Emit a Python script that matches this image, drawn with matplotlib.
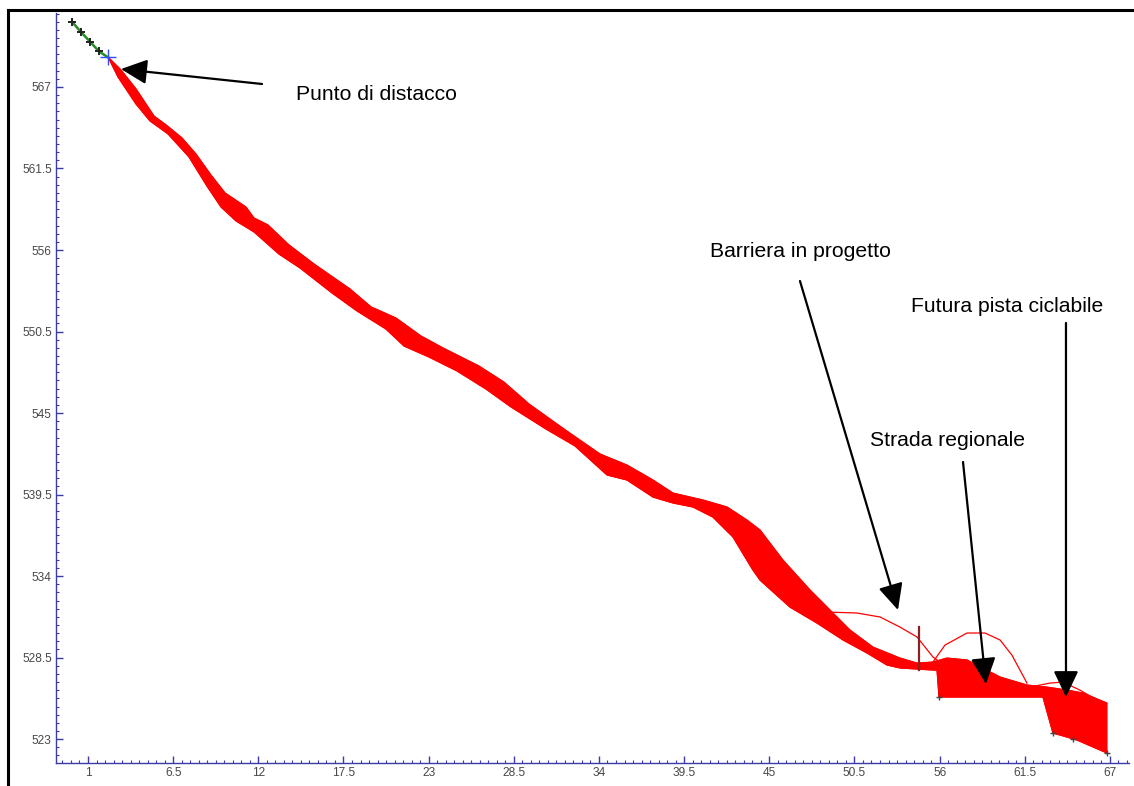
import matplotlib
matplotlib.use("Agg")
import matplotlib.pyplot as plt
from matplotlib.ticker import FixedLocator, AutoMinorLocator
from matplotlib.lines import Line2D

plt.rcParams['font.family'] = ['Liberation Sans', 'DejaVu Sans']

# ---------------- data ----------------
x_ticks = [1, 6.5, 12, 17.5, 23, 28.5, 34, 39.5, 45, 50.5, 56, 61.5, 67]
x_tick_labels = ["1", "6.5", "12", "17.5", "23", "28.5", "34", "39.5", "45", "50.5", "56", "61.5", "67"]
y_ticks = [523, 528.5, 534, 539.5, 545, 550.5, 556, 561.5, 567]
y_tick_labels = ["523", "528.5", "534", "539.5", "545", "550.5", "556", "561.5", "567"]

# initial (green) path of the block before detachment
start_x = [-0.03, 0.55, 1.13, 1.71, 2.29]
start_y = [571.4, 570.7, 570.06, 569.4, 569.0]

# upper envelope of the bundle of trajectories
upper_x = [2.29, 3.13, 4.10, 5.26, 6.04, 7.07, 7.97, 8.94, 9.85, 11.20, 11.72, 12.62,
           13.98, 15.59, 17.92, 19.28, 20.89, 22.50, 23.93, 26.25, 27.86, 29.48, 31.74,
           34.06, 35.81, 37.49, 38.78, 40.72, 42.27, 43.56, 44.40, 45.88, 47.63, 49.11,
           50.21, 51.69, 53.44, 54.54, 55.57, 56.47, 57.77, 59.90, 61.64, 62.93, 64.22,
           65.26, 66.81]
upper_y = [569.02, 568.15, 566.87, 565.04, 564.44, 563.56, 562.48, 561.06, 559.85, 558.90,
           558.16, 557.69, 556.34, 555.06, 553.37, 552.16, 551.41, 550.20, 549.39, 548.17,
           547.09, 545.61, 543.92, 542.24, 541.49, 540.48, 539.60, 539.13, 538.66, 537.78,
           537.11, 535.08, 533.06, 531.51, 530.36, 529.21, 528.47, 528.13, 528.20, 528.47,
           528.34, 527.19, 526.65, 526.51, 526.31, 526.11, 525.43]

# lower envelope of the bundle of trajectories
lower_x = [2.36, 2.94, 4.10, 5.00, 6.17, 7.52, 8.68, 9.59, 10.56, 11.72, 13.33, 14.69,
           16.76, 18.37, 20.24, 21.41, 23.02, 24.83, 26.70, 28.32, 30.58, 32.45, 34.52,
           35.81, 37.49, 38.78, 40.07, 41.36, 42.65, 43.94, 44.40, 46.33, 48.08, 49.76,
           51.31, 52.60, 53.44, 55.57, 55.83, 55.96, 61.19, 62.67, 63.32, 64.22, 64.87,
           66.81]
lower_y = [568.89, 567.67, 565.85, 564.71, 563.83, 562.28, 560.32, 558.90, 557.96, 557.22,
           555.73, 554.79, 553.10, 551.89, 550.67, 549.52, 548.78, 547.84, 546.62, 545.41,
           543.92, 542.78, 540.82, 540.48, 539.33, 538.93, 538.66, 537.98, 536.64, 534.41,
           533.73, 531.91, 530.83, 529.69, 528.81, 528.00, 527.80, 527.66, 527.66, 525.84,
           525.84, 525.84, 523.41, 523.14, 522.94, 522.06]

# isolated trajectories (high bounces)
arc_barrier_x = [48.47, 50.66, 52.15, 53.44, 54.54, 55.57, 56.02]
arc_barrier_y = [531.58, 531.51, 531.24, 530.56, 529.89, 528.54, 528.20]
arc_road_x = [55.57, 56.35, 57.77, 58.93, 59.90, 60.67, 61.64]
arc_road_y = [528.20, 529.35, 530.16, 530.16, 529.69, 528.67, 526.78]
arc_end_x = [62.16, 63.12, 63.96, 65.06, 66.68]
arc_end_y = [526.58, 526.78, 526.85, 526.31, 525.30]

# planned barrier
barrier_x = [54.67, 54.67]
barrier_y = [527.66, 530.56]

# stopping points
stop_x = [55.96, 63.32, 64.6, 66.81]
stop_y = [525.84, 523.41, 523.0, 522.06]

annotations = [
    ("Punto di distacco", (3.13, 568.21), (12.24, 567.2), (14.43, 566.46), "left"),
    ("Barriera in progetto", (53.31, 531.71), (46.98, 553.91), (47.04, 555.93), "center"),
    ("Strada regionale", (58.99, 526.72), (57.51, 541.70), (56.54, 543.18), "center"),
    ("Futura pista ciclabile", (64.16, 525.84), (64.16, 551.08), (60.35, 552.22), "center"),
]

# ---------------- figure ----------------
W, H = 1134, 786
fig = plt.figure(figsize=(W / 100, H / 100), dpi=100)
ax = fig.add_axes([56 / W, (H - 763) / H, (1129 - 56) / W, (763 - 13) / H])

axis_col = '#3c3ca8'
red = '#ff0000'

poly_x = upper_x + lower_x[::-1]
poly_y = upper_y + lower_y[::-1]
ax.fill(poly_x, poly_y, color=red, lw=0.8, zorder=2)
ax.plot(upper_x, upper_y, color=red, lw=0.8, zorder=2)
ax.plot(lower_x, lower_y, color=red, lw=0.8, zorder=2)

for ax_, ay_ in [(arc_barrier_x, arc_barrier_y), (arc_road_x, arc_road_y), (arc_end_x, arc_end_y)]:
    ax.plot(ax_, ay_, color=red, lw=0.9, zorder=2)

ax.plot(barrier_x, barrier_y, color='#8b2020', lw=1.6, zorder=3)

ax.plot(start_x, start_y, color='#2a8a2a', lw=1.8, zorder=3)
ax.plot(start_x[:-1], start_y[:-1], ls='none', marker='+', ms=6, mew=1.4, color='#222222', zorder=4)
ax.plot(start_x[-1:], start_y[-1:], ls='none', marker='+', ms=12, mew=1.0, color='#3050ff', zorder=5)
ax.plot(stop_x, stop_y, ls='none', marker='+', ms=4, mew=1.0, color='#444444', zorder=4)

for text, tip, tail, tpos, ha in annotations:
    ax.annotate("", xy=tip, xytext=tail,
                arrowprops=dict(arrowstyle='-|>,head_length=0.8,head_width=0.38',
                                mutation_scale=20, lw=1.6, color='black',
                                shrinkA=0, shrinkB=0), zorder=6)
    ax.text(tpos[0], tpos[1], text, ha=ha, va='center', fontsize=15.2, color='black')

ax.set_xlim(-1.066, 68.23)
ax.set_ylim(521.39, 571.99)

ax.xaxis.set_major_locator(FixedLocator(x_ticks))
ax.set_xticklabels(x_tick_labels)
ax.yaxis.set_major_locator(FixedLocator(y_ticks))
ax.set_yticklabels(y_tick_labels)
ax.xaxis.set_minor_locator(AutoMinorLocator(10))
ax.yaxis.set_minor_locator(AutoMinorLocator(10))

for side in ['top', 'right']:
    ax.spines[side].set_visible(False)
for side in ['left', 'bottom']:
    ax.spines[side].set_color(axis_col)
    ax.spines[side].set_linewidth(1.0)

ax.tick_params(which='major', direction='in', length=5, width=1.0, color=axis_col,
               labelsize=8.6, labelcolor='#484848', pad=3)
ax.tick_params(which='minor', direction='in', length=2.5, width=0.8, color=axis_col)
ax.set_facecolor('none')

# outer black frame (left and top edges visible)
fig.add_artist(Line2D([8 / W, 8 / W], [0, (H - 10) / H], transform=fig.transFigure,
                      color='black', lw=2.2))
fig.add_artist(Line2D([8 / W, 1], [(H - 10) / H, (H - 10) / H], transform=fig.transFigure,
                      color='black', lw=2.2))

fig.savefig("out.png", dpi=100, facecolor='white')
